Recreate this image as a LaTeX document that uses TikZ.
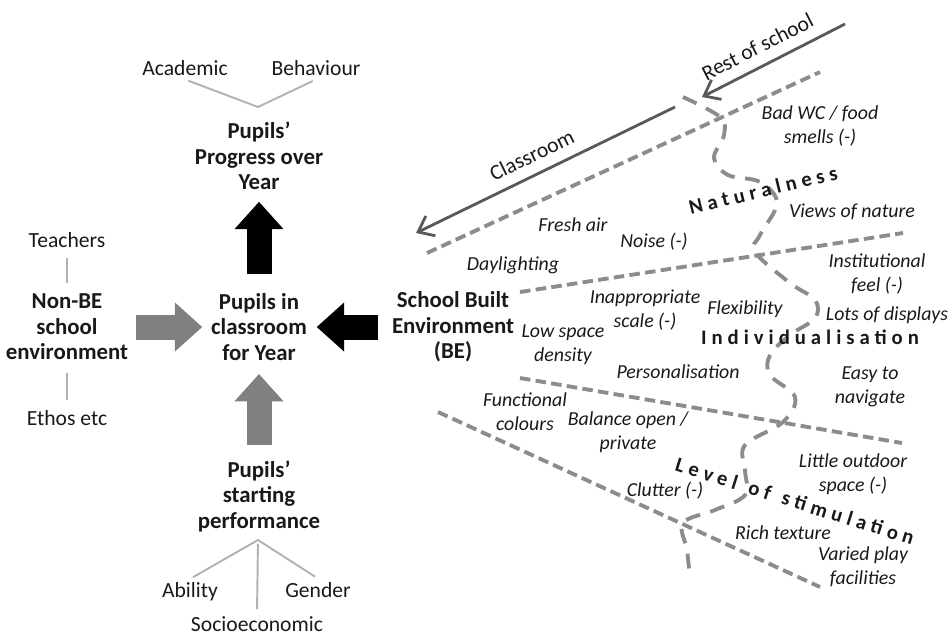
\documentclass[tikz,border=0pt]{standalone}
\usepackage{fontspec}
\setmainfont{Carlito}
\newfontfamily\spacedfont[LetterSpace=24]{Carlito}
\usetikzlibrary{arrows,arrows.meta,positioning}
\tikzset{
    %Define standard arrow tip
    >={Straight Barb[length=2.8mm,width=4.4mm]},
    %Define styles for texts
    hub/.style={
           font=\bfseries\fontsize{13}{14.5}\selectfont,
           align=center,
           text=black!90,
           inner sep=2pt},
    leaf/.style={
           font=\fontsize{12.3}{14}\selectfont,
           text=black!90,
           inner sep=2pt},
    fac/.style={
           font=\itshape\fontsize{11.3}{13.5}\selectfont,
           align=center,
           text=black!90,
           inner sep=1pt},
    theme/.style={
           font=\spacedfont\bfseries\fontsize{11.8}{13}\selectfont,
           text=black!90,
           inner sep=0pt},
    % Define line styles
    twig/.style={
           draw=black!30,
           line width=1.1pt,
           shorten <=2pt,
           shorten >=2pt},
    fatblk/.style={
           line width=0.5cm,
           black,
           -{Triangle[length=0.55cm,width=0.95cm]}},
    fatgry/.style={
           fatblk,
           black!50},
    zone/.style={
           draw=black!45,
           line width=2.2pt,
           dash pattern=on 6pt off 3pt},
    wave/.style={
           zone,
           dash pattern=on 8.5pt off 6pt},
    flow/.style={
           ->,
           draw=black!65,
           line width=1.6pt}
}
\begin{document}
\begin{tikzpicture}[x=0.02cm, y=-0.02cm]
\useasboundingbox (0,0) rectangle (952,637);
         %pupils column
          \node[hub] (prog) at (259,156) {Pupils'\\Progress over\\Year};
          \node[leaf] (acad) at (185,68) {Academic};
          \node[leaf] (behav) at (316,68) {Behaviour};
          \coordinate (crux) at (258,107);
          \draw[twig] (acad.south) -- (crux) -- (behav.south);

          \node[hub] (cls) at (259,327) {Pupils in\\classroom\\for Year};
          \node[hub] (start) at (259,496) {Pupils'\\starting\\performance};
          \node[leaf] (abil) at (190,592) {Ability};
          \node[leaf] (gender) at (318,590) {Gender};
          \node[leaf] (socio) at (257,624) {Socioeconomic};
          \coordinate (root) at (258,540);
          \draw[twig] (abil.north) -- (root) -- (gender.north);
          \draw[twig] (root) -- (socio.north);

         %non built environment
          \node[hub] (nonbe) at (67,327) {Non-BE\\school\\environment};
          \node[leaf] (teach) at (67,240) {Teachers};
          \node[leaf] (ethos) at (67,418) {Ethos etc};
          \draw[twig, shorten <=4pt, shorten >=4pt] (teach) -- (nonbe);
          \draw[twig, shorten <=5pt, shorten >=4pt] (nonbe) -- (ethos);

         %built environment
          \node[hub] (sbe) at (453,327) {School Built\\Environment\\(BE)};

         %block arrows
          \draw[fatblk, shorten <=0.32cm, shorten >=0.16cm] (cls.north) -- (prog.south);
          \draw[fatgry, shorten <=0.08cm, shorten >=0.1cm] (nonbe) -- (cls);
          \draw[fatblk, shorten <=0.2cm, shorten >=0.12cm] (sbe) -- (cls);
          \draw[fatgry, shorten <=0.23cm, shorten >=0.19cm] (start.north) -- (cls.south);

         %classroom and rest of school
          \coordinate (clsA) at (675,107);
          \coordinate (clsB) at (416,233);
          \coordinate (restA) at (845,24);
          \coordinate (restB) at (702,97);
          \draw[flow] (clsA) -- node[leaf, pos=.52, sloped, above=4pt] {Classroom} (clsB);
          \draw[flow] (restA) -- node[leaf, pos=.55, sloped, above=4pt] {Rest of school} (restB);

         %zones
          \draw[zone] (427,253) -- (820,72);
          \draw[zone] (520,292) -- (903,233);
          \draw[zone] (520,378) -- (902,443);
          \draw[zone] (438,412) -- (820,587);
          \draw[wave] plot[smooth, tension=0.6] coordinates {
              (683,97) (720,117) (724,135) (714,158) (728,175) (760,182)
              (777,203) (760,235) (755,252) (790,283) (815,300) (815,318)
              (790,335) (770,355) (770,375) (795,397) (783,422) (745,445)
              (745,470) (745,495) (715,510) (683,523) (687,550) (690,578)};

         %themes
          \node[theme, rotate=13.6] (natur) at (763,190) {Naturalness};
          \node[theme] (indiv) at (810,337) {Individualisation};
          \node[theme, rotate=-17.5] (stimul) at (795,501)
               {Level\hspace{7pt}of\hspace{7pt}stimulation};

         %features
          \node[fac] (badwc) at (820,126) {Bad WC / food\\smells (-)};
          \node[fac] (views) at (852,212) {Views of nature};
          \node[fac] (fresh) at (573,225) {Fresh air};
          \node[fac] (noise) at (654,242) {Noise (-)};
          \node[fac] (daylt) at (513,265) {Daylighting};
          \node[fac] (instit) at (877,274) {Institutional\\feel (-)};
          \node[fac] (inapp) at (645,310) {Inappropriate\\scale (-)};
          \node[fac] (flex) at (745,309) {Flexibility};
          \node[fac] (lots) at (887,315) {Lots of displays};
          \node[fac] (lowsp) at (563,345) {Low space\\density};
          \node[fac] (perso) at (678,372) {Personalisation};
          \node[fac] (easy) at (870,387) {Easy to\\navigate};
          \node[fac] (funct) at (525,412) {Functional\\colours};
          \node[fac] (balnc) at (628,432) {Balance open /\\private};
          \node[fac] (little) at (853,474) {Little outdoor\\space (-)};
          \node[fac] (clutt) at (665,491) {Clutter (-)};
          \node[fac] (rich) at (783,533) {Rich texture};
          \node[fac] (varied) at (863,567) {Varied play\\facilities};
\end{tikzpicture}
\end{document}
